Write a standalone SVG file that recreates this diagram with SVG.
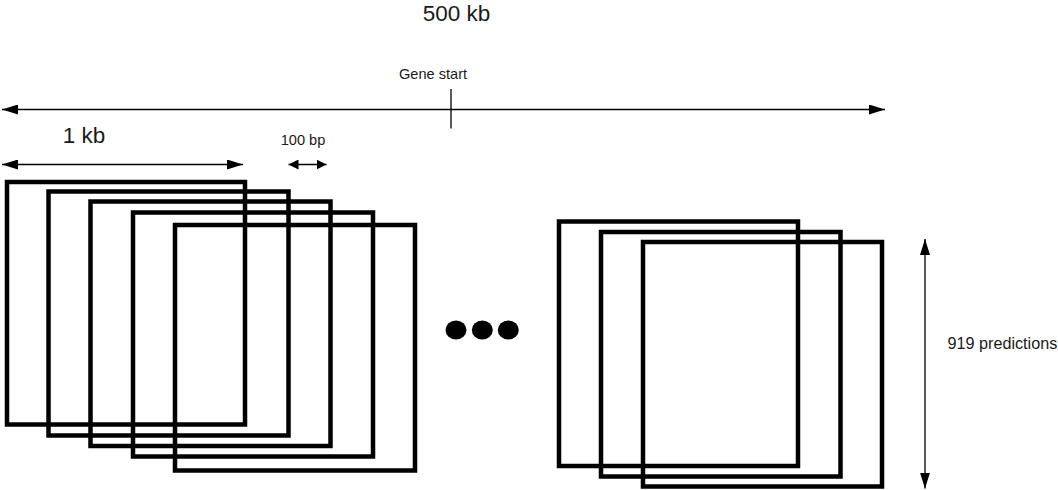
<svg xmlns="http://www.w3.org/2000/svg" width="1058" height="490" viewBox="0 0 1058 490">
  <defs>
    <marker id="ah" markerUnits="userSpaceOnUse" markerWidth="16" markerHeight="10" refX="16" refY="5" orient="auto-start-reverse">
      <path d="M0,0 L16,5 L0,10 Z" fill="#000"/>
    </marker>
    <marker id="ahs" markerUnits="userSpaceOnUse" markerWidth="10" markerHeight="10" refX="10" refY="5" orient="auto-start-reverse">
      <path d="M0,0 L10,5 L0,10 Z" fill="#000"/>
    </marker>
    <style>
      .win { fill: none; stroke: #000; stroke-width: 4.5; }
      .conn { fill: none; stroke: #000; stroke-width: 1.3; }
      .lbl { font-family: "Liberation Sans", Arial, sans-serif; fill: #1a1a1a; }
      .dot { fill: #000; }
    </style>
  </defs>

  <g id="labels">
    <text class="lbl" x="456.5" y="20.5" font-size="22.5" text-anchor="middle">500 kb</text>
    <text class="lbl" x="433" y="79" font-size="14.6" text-anchor="middle">Gene start</text>
    <text class="lbl" x="84" y="142.5" font-size="22.5" text-anchor="middle">1 kb</text>
    <text class="lbl" x="303" y="145" font-size="14.6" text-anchor="middle">100 bp</text>
    <text class="lbl" x="947.5" y="348.5" font-size="16.2">919 predictions</text>
  </g>

  <g id="connectors">
    <path class="conn" d="M2,109.5 H885" marker-start="url(#ah)" marker-end="url(#ah)"/>
    <path class="conn" d="M451,89 V128.5"/>
    <path class="conn" d="M2,164.5 H243" marker-start="url(#ah)" marker-end="url(#ah)"/>
    <path class="conn" d="M288.5,164.5 H326.5" marker-start="url(#ahs)" marker-end="url(#ahs)"/>
    <path class="conn" d="M925,239 V488.5" marker-start="url(#ah)" marker-end="url(#ah)"/>
  </g>

  <g id="window-1"><rect class="win" x="7" y="182" width="238" height="242.5"/></g>
  <g id="window-2"><rect class="win" x="48.5" y="191.5" width="240" height="244"/></g>
  <g id="window-3"><rect class="win" x="90.5" y="201.5" width="240" height="244.5"/></g>
  <g id="window-4"><rect class="win" x="133" y="212.5" width="240" height="244"/></g>
  <g id="window-5"><rect class="win" x="175" y="225" width="240" height="245.5"/></g>

  <g id="ellipsis">
    <ellipse class="dot" cx="456" cy="330" rx="10.5" ry="9.5"/>
    <ellipse class="dot" cx="482.3" cy="330" rx="10.5" ry="9.5"/>
    <ellipse class="dot" cx="508.3" cy="330" rx="10.5" ry="9.5"/>
  </g>

  <g id="window-n2"><rect class="win" x="559" y="221.5" width="239" height="244.5"/></g>
  <g id="window-n1"><rect class="win" x="601" y="232" width="239.5" height="244.5"/></g>
  <g id="window-n"><rect class="win" x="643" y="242" width="239" height="244.5"/></g>
</svg>
